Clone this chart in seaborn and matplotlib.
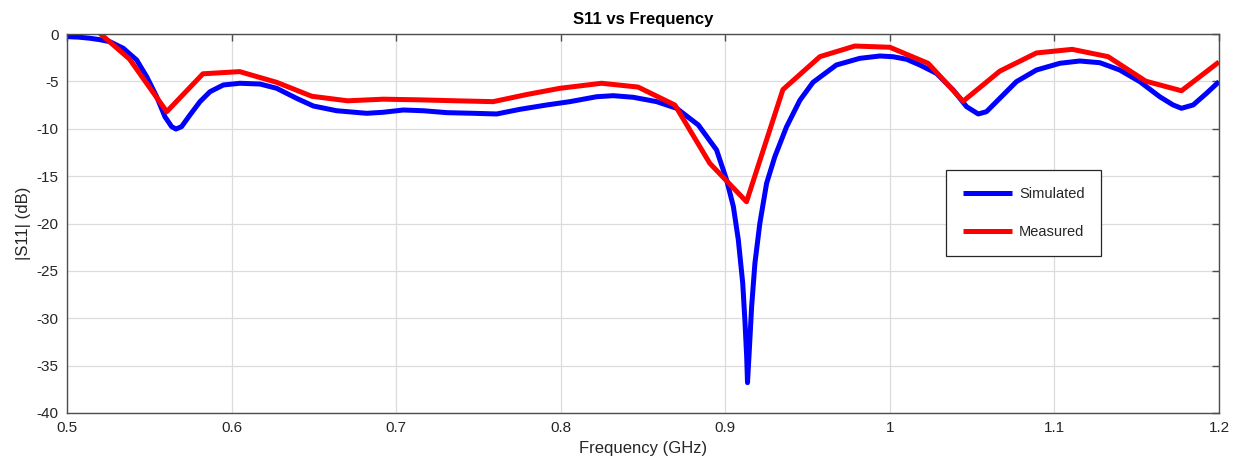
import numpy as np
import pandas as pd
import matplotlib
matplotlib.use("Agg")
import matplotlib.pyplot as plt
import seaborn as sns

# Simulated |S11| (GHz, dB)
sim_freq = [0.500, 0.507, 0.514, 0.520, 0.526, 0.5342, 0.5423, 0.5484, 0.5545, 0.5595,
            0.5636, 0.5662, 0.5696, 0.5747, 0.5808, 0.5869, 0.595, 0.6051, 0.6173, 0.6274,
            0.6355, 0.6395, 0.6497, 0.6639, 0.6821, 0.6922, 0.7044, 0.7166, 0.7307, 0.7469,
            0.7611, 0.7752, 0.7915, 0.8056, 0.8218, 0.8319, 0.8441, 0.8583, 0.8704, 0.8836,
            0.8947, 0.9008, 0.9049, 0.9079, 0.9106, 0.912, 0.913, 0.9135, 0.9146, 0.916,
            0.918, 0.921, 0.9251, 0.9301, 0.9372, 0.9453, 0.9533, 0.9675, 0.9817, 0.994,
            1.002, 1.0102, 1.0182, 1.0283, 1.0385, 1.0466, 1.0537, 1.0587, 1.0668, 1.0769,
            1.0891, 1.1033, 1.1154, 1.1276, 1.1397, 1.1519, 1.1640, 1.1721, 1.1772, 1.1843,
            1.1924, 1.200]
sim_db = [-0.28, -0.33, -0.45, -0.60, -0.81, -1.51, -2.74, -4.5, -6.62, -8.73,
          -9.78, -10.03, -9.78, -8.55, -7.14, -6.09, -5.38, -5.2, -5.28, -5.73,
          -6.44, -6.79, -7.6, -8.1, -8.37, -8.26, -8.02, -8.1, -8.3, -8.37,
          -8.44, -7.95, -7.49, -7.14, -6.62, -6.51, -6.68, -7.14, -7.84, -9.6,
          -12.24, -15.4, -18.2, -21.7, -26.3, -30.5, -34.06, -36.8, -33.35, -28.8,
          -24.2, -19.98, -15.76, -12.95, -9.8, -7.0, -5.1, -3.27, -2.57, -2.32,
          -2.4, -2.67, -3.27, -4.15, -5.91, -7.67, -8.44, -8.2, -6.79, -5.03,
          -3.8, -3.09, -2.85, -3.03, -3.8, -5.03, -6.62, -7.49, -7.84, -7.49,
          -6.26, -5.03]

# Measured |S11| (GHz, dB)
meas_freq = [0.520, 0.538, 0.5606, 0.5826, 0.6049, 0.6274, 0.6487, 0.6705, 0.6922, 0.7145,
             0.7366, 0.759, 0.779, 0.7995, 0.8248, 0.847, 0.8694, 0.8906, 0.9129, 0.935,
             0.9575, 0.9787, 1.000, 1.0233, 1.0445, 1.0668, 1.0891, 1.1108, 1.1326, 1.1555,
             1.1772, 1.200]
meas_db = [0.07, -2.65, -8.2, -4.2, -3.97, -5.1, -6.57, -7.05, -6.88, -6.95,
           -7.05, -7.14, -6.4, -5.73, -5.2, -5.6, -7.5, -13.65, -17.7, -5.87,
           -2.39, -1.27, -1.4, -3.1, -7.1, -3.92, -2.0, -1.62, -2.39, -4.98,
           -5.99, -2.95]

x_ticks = [0.5, 0.6, 0.7, 0.8, 0.9, 1.0, 1.1, 1.2]
x_tick_labels = ["0.5", "0.6", "0.7", "0.8", "0.9", "1", "1.1", "1.2"]
y_ticks = [-40, -35, -30, -25, -20, -15, -10, -5, 0]

sim = pd.DataFrame({"freq": sim_freq, "db": sim_db})
meas = pd.DataFrame({"freq": meas_freq, "db": meas_db})

sns.set_style("white")
plt.rcParams["font.family"] = ["Liberation Sans", "DejaVu Sans"]
plt.rcParams["axes.unicode_minus"] = False

fig = plt.figure(figsize=(12.42, 4.70), dpi=100)
ax = fig.add_axes([67 / 1242, 1 - 413 / 470, 1152 / 1242, 379 / 470])

line_kw = dict(linewidth=3.6, sort=False, estimator=None,
               solid_joinstyle="round", solid_capstyle="butt")
sns.lineplot(data=sim, x="freq", y="db", ax=ax, color="#0000ff",
             label="Simulated", **line_kw)
sns.lineplot(data=meas, x="freq", y="db", ax=ax, color="#ff0000",
             label="Measured", **line_kw)

ax.set_xlim(0.5, 1.2)
ax.set_ylim(-40, 0)
ax.set_xticks(x_ticks)
ax.set_xticklabels(x_tick_labels)
ax.set_yticks(y_ticks)
ax.grid(True, color="#dcdcdc", linewidth=0.9)
ax.set_axisbelow(True)
for s in ax.spines.values():
    s.set_color("#4d4d4d")
    s.set_linewidth(1.0)
ax.tick_params(direction="in", length=5, width=1, colors="#4d4d4d",
               labelcolor="#262626", labelsize=11, top=True, right=True, pad=6)

ax.set_xlabel("Frequency (GHz)", fontsize=12, color="#262626", labelpad=4)
ax.set_ylabel("|S11| (dB)", fontsize=12, color="#262626", labelpad=4)
ax.set_title("S11 vs Frequency", fontsize=12, fontweight="bold", color="#000000", pad=7)

leg = ax.legend(loc="upper left", bbox_to_anchor=(0.763, 0.641), fontsize=10.5,
                frameon=True, fancybox=False, framealpha=1, edgecolor="#262626",
                handlelength=3.4, handletextpad=0.45, labelspacing=1.65,
                borderpad=1.15, borderaxespad=0)
leg.get_frame().set_linewidth(0.9)

fig.savefig("out.png", dpi=100)
